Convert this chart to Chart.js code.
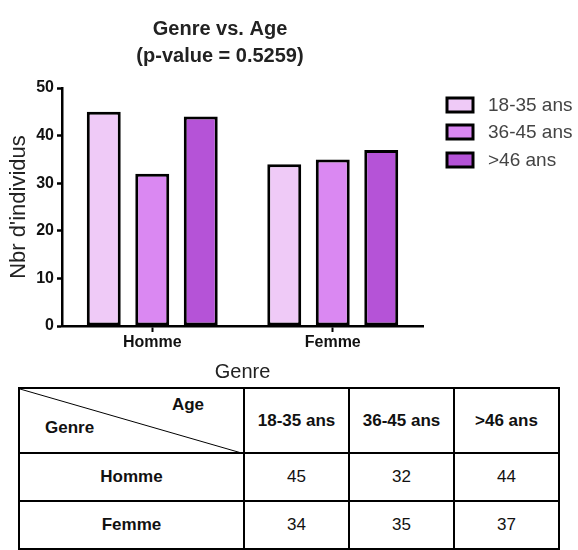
<!DOCTYPE html>
<html>
<head>
<meta charset="utf-8">
<script src="https://cdn.jsdelivr.net/npm/chart.js@4"></script>
<style>
  html, body { margin: 0; padding: 0; background: #fff; }
  body { width: 578px; height: 550px; overflow: hidden; position: relative;
         font-family: Arial, "Liberation Sans", sans-serif; }
  #wrap { position: absolute; left: 0; top: 0; width: 578px; height: 385px; }
  #chart { display: block; }
  #tbl { position: absolute; left: 18px; top: 387px; border-collapse: collapse; table-layout: fixed; }
  #tbl td { border: 2px solid #000; text-align: center; font-size: 17px; color: #111; padding: 0; }
  #tbl td.hd { font-weight: bold; }
  #tbl td.corner { position: relative; }
  #tbl td.corner svg { position: absolute; left: 0; top: 0; }
  #tbl td.corner .age { position: absolute; right: 39px; top: 6px; font-weight: bold; }
  #tbl td.corner .genre { position: absolute; left: 25px; bottom: 14px; font-weight: bold; }
</style>
</head>
<body>
<div id="wrap"><canvas id="chart" width="578" height="385"></canvas></div>
<table id="tbl"></table>
<script>
const genres = ["Homme", "Femme"];
const ageGroups = ["18-35 ans", "36-45 ans", ">46 ans"];
const counts18to35 = [45, 34];
const counts36to45 = [32, 35];
const countsOver46 = [44, 37];
const yTicks = [0, 10, 20, 30, 40, 50];
const barColors = ["#EFCAF7", "#DA88F2", "#B553D7"];

const FONT = 'Arial, "Liberation Sans", sans-serif';
const series = [counts18to35, counts36to45, countsOver46];

// title and legend sit at fixed spots beside the plot
const sideText = {
  id: "sideText",
  afterDraw(chart) {
    const ctx = chart.ctx;
    ctx.save();
    ctx.fillStyle = "#222";
    ctx.textAlign = "center";
    ctx.textBaseline = "alphabetic";
    ctx.font = "bold 20px " + FONT;
    ctx.fillText("Genre vs. Age", 220, 35);
    ctx.fillText("(p-value = 0.5259)", 220, 62);

    ctx.textAlign = "left";
    ctx.textBaseline = "middle";
    ctx.font = "19px " + FONT;
    const rows = [105, 132, 160];
    chart.data.datasets.forEach((ds, i) => {
      const y = rows[i];
      ctx.fillStyle = ds.backgroundColor;
      ctx.fillRect(447, y - 7, 26, 14);
      ctx.strokeStyle = "#000";
      ctx.lineWidth = 3;
      ctx.strokeRect(447, y - 7, 26, 14);
      ctx.fillStyle = "#444";
      ctx.fillText(ds.label, 488, y + 1);
    });
    ctx.restore();
  }
};

new Chart(document.getElementById("chart"), {
  type: "bar",
  data: {
    labels: genres,
    datasets: ageGroups.map((g, i) => ({
      label: g,
      data: series[i],
      backgroundColor: barColors[i],
      borderColor: "#000",
      borderWidth: 3,
      borderSkipped: false,
      barPercentage: 0.7,
      categoryPercentage: 0.806
    }))
  },
  options: {
    responsive: false,
    animation: false,
    layout: { padding: { top: 88, right: 155, left: 0, bottom: 0 } },
    plugins: {
      legend: { display: false },
      title: { display: false },
      tooltip: { enabled: false }
    },
    scales: {
      x: {
        offset: true,
        grid: { offset: false, drawOnChartArea: false, tickLength: 6, tickColor: "#000", tickWidth: 2 },
        border: { color: "#000", width: 2.5 },
        ticks: { color: "#111", padding: 1, font: { family: FONT, size: 16, weight: "bold" } },
        title: { display: true, text: "Genre", color: "#222", padding: { top: 0, bottom: 1 },
                 font: { family: FONT, size: 20 } },
        afterFit: s => { s.height = 59; }
      },
      y: {
        min: 0,
        max: 50,
        afterBuildTicks: s => { s.ticks = yTicks.map(v => ({ value: v })); },
        grid: { drawOnChartArea: false, tickLength: 5, tickColor: "#000", tickWidth: 2.5 },
        border: { color: "#000", width: 2.5 },
        ticks: { color: "#111", padding: 3, font: { family: FONT, size: 16, weight: "bold" } },
        title: { display: true, text: "Nbr d'individus", color: "#222", padding: { top: 6, bottom: 0 },
                 font: { family: FONT, size: 22 } },
        afterFit: s => { s.width = 62; }
      }
    }
  },
  plugins: [sideText]
});

// contingency table under the chart
const tbl = document.getElementById("tbl");
const colW = [225, 105, 105, 105];
const rowH = [65, 48, 48];
let html = "<colgroup>" + colW.map(w => `<col style="width:${w}px">`).join("") + "</colgroup>";
html += `<tr style="height:${rowH[0]}px"><td class="corner">
  <svg width="225" height="65"><line x1="0" y1="0" x2="225" y2="65" stroke="#000" stroke-width="1"/></svg>
  <span class="age">Age</span><span class="genre">Genre</span></td>`;
html += ageGroups.map(a => `<td class="hd">${a}</td>`).join("") + "</tr>";
genres.forEach((g, r) => {
  html += `<tr style="height:${rowH[r + 1]}px"><td class="hd">${g}</td>`;
  html += series.map(s => `<td>${s[r]}</td>`).join("") + "</tr>";
});
tbl.innerHTML = html;
</script>
</body>
</html>
